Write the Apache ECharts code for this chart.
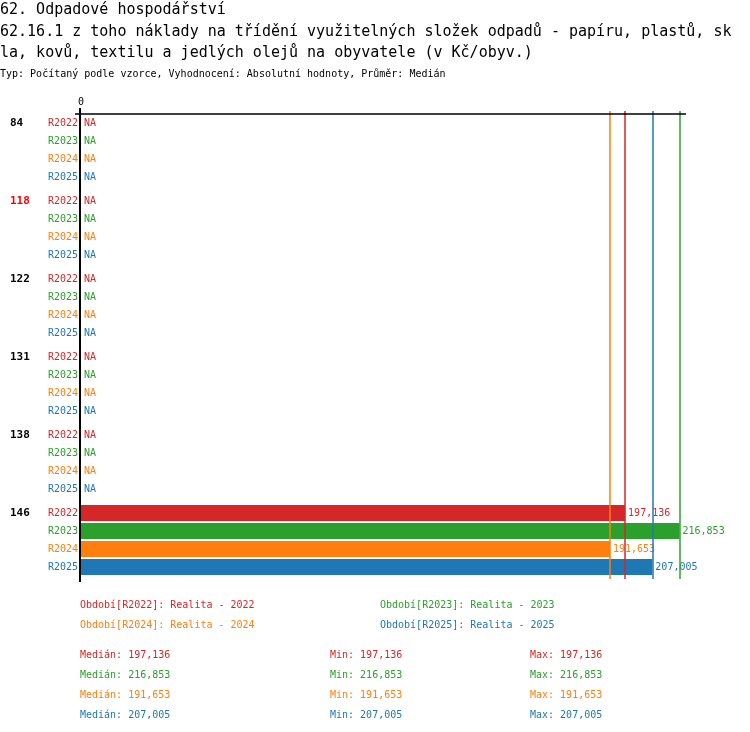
<!DOCTYPE html>
<html>
<head>
<meta charset="utf-8">
<script src="https://cdn.jsdelivr.net/npm/echarts@6/dist/echarts.min.js"></script>
<style>
html,body{margin:0;padding:0;background:#fff;}
#main{width:750px;height:732px;}
</style>
</head>
<body>
<div id="main"></div>
<script>
// data
var groups = ['84', '118', '122', '131', '138', '146'];
var highlightGroup = '118';
var periods = ['R2022', 'R2023', 'R2024', 'R2025'];
var periodNames = ['Realita - 2022', 'Realita - 2023', 'Realita - 2024', 'Realita - 2025'];
var v2022 = [null, null, null, null, null, 197136];
var v2023 = [null, null, null, null, null, 216853];
var v2024 = [null, null, null, null, null, 191653];
var v2025 = [null, null, null, null, null, 207005];
var medians = [197136, 216853, 191653, 207005];
var mins = [197136, 216853, 191653, 207005];
var maxs = [197136, 216853, 191653, 207005];
var xMax = 219200;
var xTicks = [0];

var titleLines = [
    '62. Odpadové hospodářství',
    '62.16.1 z toho náklady na třídění využitelných složek odpadů - papíru, plastů, sk',
    'la, kovů, textilu a jedlých olejů na obyvatele (v Kč/obyv.)'
];
var subTitle = 'Typ: Počítaný podle vzorce, Vyhodnocení: Absolutní hodnoty, Průměr: Medián';

var colors = ['#d62728', '#2ca02c', '#ff7f0e', '#1f77b4'];
var font = 'DejaVu Sans Mono';
var allValues = [v2022, v2023, v2024, v2025];

function fmt(n) {
    return String(n).replace(/\B(?=(\d{3})+(?!\d))/g, ',');
}

var myChart = echarts.init(document.getElementById('main'));

var series = [];
periods.forEach(function (p, i) {
    // neviditelna serie jen kvuli popisku vlevo (R2022 ...)
    series.push({
        name: p + '_lbl',
        type: 'bar',
        stack: p,
        barWidth: 16,
        barGap: '12.5%',
        silent: true,
        itemStyle: {color: 'rgba(0,0,0,0)'},
        label: {
            show: true,
            position: 'left',
            distance: 3,
            formatter: p,
            color: colors[i],
            fontFamily: font,
            fontSize: 10
        },
        data: groups.map(function () { return 0; })
    });
    series.push({
        name: p,
        type: 'bar',
        stack: p,
        barWidth: 16,
        barGap: '12.5%',
        itemStyle: {color: colors[i]},
        label: {
            show: true,
            position: 'right',
            distance: 3,
            color: colors[i],
            fontFamily: font,
            fontSize: 10,
            formatter: function (d) {
                return d.data.na ? 'NA' : fmt(d.value);
            }
        },
        markLine: {
            silent: true,
            symbol: 'none',
            label: {show: false},
            lineStyle: {color: colors[i], width: 1.5, type: 'solid', opacity: 1},
            data: [{xAxis: medians[i]}]
        },
        data: allValues[i].map(function (v) {
            return v === null ? {value: 0, na: true} : {value: v};
        })
    });
});

var graphics = [];
titleLines.forEach(function (t, i) {
    graphics.push({
        type: 'text', left: 0, top: 3 + i * 21.5,
        style: {text: t, font: '15px "' + font + '"', fill: '#000'}
    });
});
graphics.push({
    type: 'text', left: 0, top: 69,
    style: {text: subTitle, font: '10px "' + font + '"', fill: '#000'}
});
// legenda obdobi
var legendPos = [[80, 600], [380, 600], [80, 620], [380, 620]];
periods.forEach(function (p, i) {
    graphics.push({
        type: 'text', left: legendPos[i][0], top: legendPos[i][1],
        style: {text: 'Období[' + p + ']: ' + periodNames[i], font: '10px "' + font + '"', fill: colors[i]}
    });
});
// statistiky
periods.forEach(function (p, i) {
    var y = 650 + i * 20;
    [['Medián: ', medians[i], 80], ['Min: ', mins[i], 330], ['Max: ', maxs[i], 530]].forEach(function (s) {
        graphics.push({
            type: 'text', left: s[2], top: y,
            style: {text: s[0] + fmt(s[1]), font: '10px "' + font + '"', fill: colors[i]}
        });
    });
});

var option = {
    animation: false,
    backgroundColor: '#fff',
    grid: {left: 81, right: 64, top: 111, height: 468, containLabel: false},
    xAxis: {
        type: 'value',
        position: 'top',
        min: 0,
        max: xMax,
        interval: xMax,
        axisLine: {show: false},
        axisTick: {show: false},
        splitLine: {show: false},
        axisLabel: {
            show: true,
            margin: 4,
            showMaxLabel: false,
            color: '#000',
            fontFamily: font,
            fontSize: 10,
            formatter: function (v) { return xTicks.indexOf(v) >= 0 ? String(v) : ''; }
        }
    },
    yAxis: {
        type: 'category',
        inverse: true,
        data: groups,
        axisLine: {show: false},
        axisTick: {show: false},
        axisLabel: {
            margin: 71,
            align: 'left',
            verticalAlign: 'middle',
            lineHeight: 18,
            fontFamily: font,
            fontSize: 11,
            fontWeight: 'bold',
            // popisek skupiny zarovnat k prvnimu radku
            formatter: function (v) { return v + '\n \n \n '; },
            color: function (v) { return v === highlightGroup ? '#ff0000' : '#000'; }
        }
    },
    series: series,
    graphic: graphics
};
myChart.setOption(option);

// osy jako cary
var x0 = myChart.convertToPixel({gridIndex: 0}, [0, 0])[0];
var xEnd = myChart.convertToPixel({gridIndex: 0}, [xMax, 0])[0];
graphics.push({
    type: 'line', z: 10,
    shape: {x1: 75, y1: 114, x2: xEnd, y2: 114},
    style: {stroke: '#000', lineWidth: 1.5}
});
graphics.push({
    type: 'line', z: 10,
    shape: {x1: x0 - 1, y1: 108, x2: x0 - 1, y2: 582},
    style: {stroke: '#000', lineWidth: 2}
});
myChart.setOption({graphic: graphics});

window.onresize = myChart.resize;
</script>
</body>
</html>
